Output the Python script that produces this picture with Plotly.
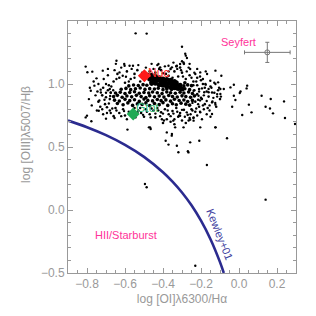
import plotly.graph_objects as go

# ---- Kewley+01 demarcation curve ----
kew_x = [-0.9, -0.8, -0.7, -0.6, -0.5, -0.4, -0.35, -0.3, -0.25, -0.2, -0.15, -0.1, -0.08]
kew_y = [0.710, 0.657, 0.594, 0.517, 0.422, 0.300, 0.225, 0.139, 0.037, -0.085, -0.232, -0.414, -0.5]

# ---- dense tail near nucleus ----
tail_x = [-0.48, -0.46, -0.44, -0.42, -0.40, -0.38, -0.36, -0.34, -0.33, -0.45,
          -0.47, -0.45, -0.43, -0.41, -0.39, -0.37, -0.35, -0.33, -0.31, -0.44,
          -0.46, -0.44, -0.42, -0.40, -0.38, -0.36, -0.34, -0.32, -0.30, -0.41]
tail_y = [1.07, 1.07, 1.06, 1.05, 1.04, 1.035, 1.03, 1.02, 1.01, 1.055,
          1.04, 1.035, 1.03, 1.02, 1.01, 1.005, 1.0, 0.995, 0.99, 1.045,
          1.01, 1.005, 0.995, 0.99, 0.98, 0.975, 0.97, 0.965, 0.96, 1.0]

# ---- dense body ----
core_x = [-0.64, -0.61, -0.585, -0.56, -0.535, -0.51, -0.49, -0.47, -0.445, -0.42, -0.40, -0.375, -0.35, -0.33, -0.305, -0.28, -0.26,
          -0.655, -0.63, -0.6, -0.575, -0.55, -0.525, -0.5, -0.48, -0.455, -0.43, -0.41, -0.385, -0.36, -0.34, -0.315, -0.29, -0.27, -0.245,
          -0.66, -0.64, -0.615, -0.59, -0.565, -0.54, -0.515, -0.49, -0.47, -0.445, -0.42, -0.395, -0.37, -0.35, -0.325, -0.30, -0.28, -0.255, -0.235,
          -0.65, -0.625, -0.6, -0.575, -0.55, -0.525, -0.5, -0.475, -0.455, -0.43, -0.405, -0.38, -0.36, -0.335, -0.31, -0.29, -0.265, -0.245,
          -0.62, -0.595, -0.57, -0.545, -0.52, -0.495, -0.47, -0.445, -0.425, -0.40, -0.38, -0.355, -0.33, -0.305, -0.285, -0.26,
          -0.58, -0.555, -0.53, -0.505, -0.485, -0.46, -0.29, -0.27, -0.25, -0.285]
core_y = [0.845, 0.835, 0.85, 0.83, 0.842, 0.838, 0.85, 0.828, 0.845, 0.836, 0.852, 0.83, 0.843, 0.835, 0.848, 0.84, 0.832,
          0.872, 0.865, 0.878, 0.868, 0.875, 0.862, 0.88, 0.87, 0.866, 0.877, 0.868, 0.874, 0.864, 0.879, 0.869, 0.873, 0.861, 0.87,
          0.9, 0.91, 0.895, 0.905, 0.898, 0.91, 0.9, 0.893, 0.907, 0.899, 0.904, 0.896, 0.909, 0.901, 0.897, 0.906, 0.9, 0.894, 0.905,
          0.928, 0.935, 0.925, 0.932, 0.938, 0.926, 0.933, 0.929, 0.937, 0.93, 0.924, 0.936, 0.931, 0.927, 0.934, 0.929, 0.937, 0.925,
          0.958, 0.965, 0.955, 0.962, 0.968, 0.957, 0.963, 0.96, 0.966, 0.955, 0.961, 0.957, 0.964, 0.959, 0.962, 0.955,
          0.985, 0.992, 0.988, 0.995, 0.99, 0.998, 0.985, 0.993, 0.987, 1.01]

# ---- moderate surrounding body ----
body_x = [-0.74, -0.72, -0.705, -0.69, -0.68, -0.715, -0.73, -0.695, -0.675, -0.685, -0.745, -0.70,
          -0.66, -0.63, -0.6, -0.57, -0.55, -0.52, -0.64, -0.59, -0.535, -0.44, -0.41, -0.385, -0.36, -0.34,
          -0.32, -0.30, -0.28, -0.26, -0.24, -0.22, -0.33, -0.35, -0.37, -0.31, -0.29, -0.42, -0.47, -0.505,
          -0.68, -0.65, -0.63, -0.61, -0.58, -0.55, -0.53, -0.515, -0.49, -0.47, -0.45, -0.43, -0.41, -0.39,
          -0.37, -0.35, -0.33, -0.31, -0.29, -0.27, -0.25, -0.23, -0.21, -0.6, -0.66, -0.5, -0.44, -0.38,
          -0.32, -0.26, -0.36, -0.34, -0.30, -0.28, -0.40,
          -0.23, -0.22, -0.21, -0.2, -0.19, -0.18, -0.17, -0.16, -0.15, -0.14, -0.13, -0.12, -0.22, -0.2,
          -0.18, -0.235, -0.215, -0.165, -0.11, -0.1]
body_y = [0.86, 0.91, 0.84, 0.95, 0.88, 0.97, 0.82, 0.815, 0.93, 0.99, 0.94, 0.895,
          1.02, 1.05, 1.01, 1.04, 1.08, 1.02, 1.08, 1.1, 1.11, 1.09, 1.11, 1.08, 1.12, 1.1,
          1.06, 1.09, 1.04, 1.07, 1.02, 1.05, 1.14, 1.05, 1.065, 1.13, 1.16, 1.12, 1.1, 1.06,
          0.79, 0.81, 0.77, 0.8, 0.78, 0.81, 0.79, 0.77, 0.8, 0.76, 0.79, 0.81, 0.775, 0.8,
          0.76, 0.785, 0.81, 0.77, 0.795, 0.755, 0.8, 0.78, 0.82, 0.75, 0.745, 0.74, 0.735, 0.72,
          0.74, 0.73, 0.70, 0.68, 0.71, 0.69, 0.69,
          0.86, 0.92, 0.96, 0.89, 1.0, 0.84, 0.94, 0.9, 0.98, 0.86, 0.93, 0.82, 0.99, 1.03,
          0.97, 0.95, 0.875, 0.81, 0.95, 0.88]

# ---- wider scatter of the cloud ----
spread_x = [-0.79, -0.785, -0.775, -0.765, -0.755, -0.748, -0.74, -0.735, -0.728, -0.72,
            -0.712, -0.708, -0.70, -0.695, -0.69, -0.685, -0.678, -0.672, -0.667, -0.662,
            -0.655, -0.645, -0.62, -0.612, -0.58, -0.565, -0.55, -0.53, -0.51, -0.49,
            -0.46, -0.45, -0.43, -0.40, -0.39, -0.37, -0.345, -0.325, -0.305, -0.295,
            -0.275, -0.265, -0.25, -0.235, -0.22, -0.205, -0.19, -0.175, -0.26, -0.30,
            -0.715, -0.70, -0.675, -0.655, -0.645, -0.62, -0.605, -0.59, -0.57, -0.545,
            -0.535, -0.52, -0.505, -0.485, -0.465, -0.46, -0.44, -0.425, -0.415, -0.40,
            -0.395, -0.375, -0.36, -0.345, -0.34, -0.325, -0.315, -0.30, -0.285, -0.275,
            -0.265, -0.255, -0.245, -0.24, -0.225, -0.22, -0.205, -0.195, -0.185, -0.17,
            -0.155, -0.15,
            -0.245, -0.24, -0.23, -0.225, -0.215, -0.21, -0.205, -0.195, -0.19, -0.185,
            -0.175, -0.17, -0.16, -0.155, -0.145, -0.135, -0.13, -0.125, -0.115, -0.105]
spread_y = [0.88, 0.97, 0.83, 1.02, 0.91, 0.79, 1.0, 0.87, 0.955, 0.8,
            1.04, 0.875, 0.93, 0.77, 1.07, 0.845, 0.905, 0.98, 0.805, 0.95,
            1.11, 1.04, 1.13, 1.065, 1.02, 1.12, 1.05, 1.15, 1.09, 1.13,
            1.16, 1.12, 1.15, 1.085, 1.14, 1.10, 1.17, 1.12, 1.11, 1.06,
            1.1, 1.13, 1.05, 1.09, 1.12, 1.06, 1.04, 1.1, 1.16, 1.18,
            0.76, 0.725, 0.77, 0.73, 0.79, 0.745, 0.785, 0.72, 0.76, 0.735,
            0.775, 0.81, 0.755, 0.78, 0.735, 0.805, 0.765, 0.79, 0.745, 0.765,
            0.71, 0.79, 0.745, 0.765, 0.72, 0.78, 0.75, 0.795, 0.74, 0.775,
            0.71, 0.76, 0.79, 0.73, 0.805, 0.75, 0.78, 0.72, 0.8, 0.76,
            0.79, 0.74,
            0.85, 0.99, 0.91, 1.02, 0.84, 0.94, 0.87, 0.965, 0.83, 0.91,
            0.995, 0.865, 0.935, 0.83, 0.97, 0.89, 1.01, 0.85, 0.9, 0.97]

# ---- sparse outlying galaxies ----
halo_x = [-0.807, -0.645, -0.604, -0.798, -0.772, -0.75, -0.807, -0.8, -0.777, -0.738,
          -0.587, -0.474, -0.38, -0.354, -0.386, -0.371, -0.319, -0.269, -0.257, -0.209,
          -0.169, -0.063, -0.495, -0.486, -0.230, 0.140, -0.544, -0.486, -0.30, -0.283,
          -0.28, -0.098, -0.095, -0.142, -0.183,
          -0.717, -0.69, -0.648, -0.602, -0.576, -0.558, -0.629, -0.595, -0.761, -0.78,
          -0.727, -0.70, -0.68, -0.675,
          -0.468, -0.465, -0.406, -0.346, -0.336, -0.353, -0.292, -0.257, -0.239, -0.204,
          -0.124, -0.327, -0.266, -0.142, -0.204, -0.239, -0.31,
          -0.124, -0.093, -0.11, -0.098, -0.08, -0.045, -0.027, 0.008, 0.004, 0.043,
          0.04, -0.027, -0.019, -0.036, 0.052, 0.066, 0.017, 0.119, 0.14, 0.167,
          0.163, 0.179, 0.237, 0.242, -0.124, -0.124, 0.295,
          -0.274, -0.292, -0.31, -0.327, -0.353, -0.371, -0.415, -0.424, -0.257, -0.23,
          -0.204, -0.168, -0.151, -0.124, -0.177, -0.16, -0.142, -0.115, -0.239, -0.213, -0.195]
halo_y = [1.138, 1.185, 1.159, 1.093, 1.098, 1.045, 0.735, 0.749, 0.704, 0.788,
          0.638, 0.656, 0.616, 0.59, 0.55, 0.519, 0.458, 0.466, 0.537, 0.55,
          0.357, 0.569, 0.206, 0.18, -0.442, 0.082, 1.402, 1.40, 1.296, 1.24,
          1.225, 0.921, 0.9, 0.854, 0.934,
          1.106, 1.12, 1.16, 1.145, 1.145, 1.145, 1.092, 1.058, 0.987, 0.947,
          0.933, 1.0, 0.96, 0.933,
          0.656, 0.643, 0.72, 0.709, 0.656, 0.603, 0.656, 0.717, 0.709, 0.656,
          0.656, 0.51, 0.457, 0.762, 0.775, 0.735, 0.748,
          1.106, 1.066, 1.013, 0.96, 0.96, 0.973, 0.994, 0.941, 0.929, 0.987,
          0.965, 0.907, 0.873, 0.82, 0.836, 0.775, 0.754, 0.907, 0.82, 0.881,
          0.806, 0.767, 0.862, 0.73, 0.836, 0.656, 0.683,
          1.206, 1.171, 1.159, 1.145, 1.132, 1.145, 1.132, 1.159, 1.119, 1.079,
          1.092, 1.079, 1.026, 1.0, 1.0, 0.96, 0.933, 0.92, 0.947, 0.907, 0.881]

# ---- highlighted points ----
nuc_x, nuc_y = [-0.498], [1.066]
gtot_x, gtot_y = [-0.557], [0.762]
err_x, err_y = [0.149], [1.251]
err_dx, err_dy = [0.12], [0.08]

fig = go.Figure()

fig.add_trace(go.Scatter(x=kew_x, y=kew_y, mode="lines",
                         line=dict(color="#2B2B8F", width=2.6, shape="spline"),
                         hoverinfo="skip"))

for xs, ys, sz in [(halo_x, halo_y, 2.4), (spread_x, spread_y, 2.4), (body_x, body_y, 2.6),
                   (core_x, core_y, 3.6), (tail_x, tail_y, 5.0)]:
    fig.add_trace(go.Scatter(x=xs, y=ys, mode="markers",
                             marker=dict(color="black", size=sz, line=dict(width=0))))

fig.add_trace(go.Scatter(x=err_x, y=err_y, mode="markers",
                         marker=dict(symbol="circle-open", color="#777777", size=5,
                                     line=dict(width=1)),
                         error_x=dict(type="data", array=err_dx, color="#777777",
                                      thickness=1, width=2),
                         error_y=dict(type="data", array=err_dy, color="#777777",
                                      thickness=1, width=2)))

fig.add_trace(go.Scatter(x=nuc_x, y=nuc_y, mode="markers",
                         marker=dict(symbol="diamond", color="#FF1A1A", size=10,
                                     line=dict(width=0))))
fig.add_trace(go.Scatter(x=gtot_x, y=gtot_y, mode="markers",
                         marker=dict(symbol="diamond", color="#1FAA55", size=10,
                                     line=dict(width=0))))

font_family = "Liberation Sans, Arial, sans-serif"

fig.add_annotation(x=-0.49, y=1.085, text="Nuc", showarrow=False, xanchor="left",
                   font=dict(color="#FF3333", size=12, family=font_family))
fig.add_annotation(x=-0.555, y=0.81, text="Gtot", showarrow=False, xanchor="left",
                   font=dict(color="#33BB77", size=12, family=font_family))
fig.add_annotation(x=-0.005, y=1.33, text="Seyfert", showarrow=False,
                   font=dict(color="#FF3399", size=11, family=font_family))
fig.add_annotation(x=-0.595, y=-0.196, text="HII/Starburst", showarrow=False,
                   font=dict(color="#FF3399", size=11, family=font_family))
fig.add_annotation(x=-0.102, y=-0.19, text="Kewley+01", showarrow=False, textangle=68,
                   font=dict(color="#3F3FA0", size=11, family=font_family))
fig.add_annotation(xref="paper", yref="paper", x=-0.184, y=0.548,
                   xanchor="center", yanchor="middle",
                   text="log [OIII]λ5007/Hβ", showarrow=False, textangle=-90,
                   font=dict(color="#999999", size=12, family=font_family))

axis_common = dict(showline=True, linecolor="#999999", linewidth=1, mirror="ticks",
                   ticks="inside", tickcolor="#999999", ticklen=5, zeroline=False,
                   showgrid=False, automargin=False,
                   tickfont=dict(color="#999999", size=12, family=font_family),
                   title_font=dict(color="#999999", size=12, family=font_family))

fig.update_xaxes(range=[-0.9, 0.3], tickvals=[-0.8, -0.6, -0.4, -0.2, 0.0, 0.2],
                 tickformat=".1f",
                 minor=dict(dtick=0.05, tick0=0, ticks="inside", ticklen=3, tickcolor="#999999"),
                 title_text="log [OI]λ6300/Hα", title_standoff=4, **axis_common)
fig.update_yaxes(range=[-0.5, 1.5], tickvals=[-0.5, 0.0, 0.5, 1.0], tickformat=".1f",
                 minor=dict(dtick=0.1, tick0=0, ticks="inside", ticklen=3, tickcolor="#999999"),
                 **axis_common)

# page body has an 8px default margin; figure is sized to compensate
fig.update_layout(width=308, height=308, showlegend=False,
                  margin=dict(l=60, r=20, t=13, b=43),
                  paper_bgcolor="white", plot_bgcolor="white")

fig.write_html("out.html")
